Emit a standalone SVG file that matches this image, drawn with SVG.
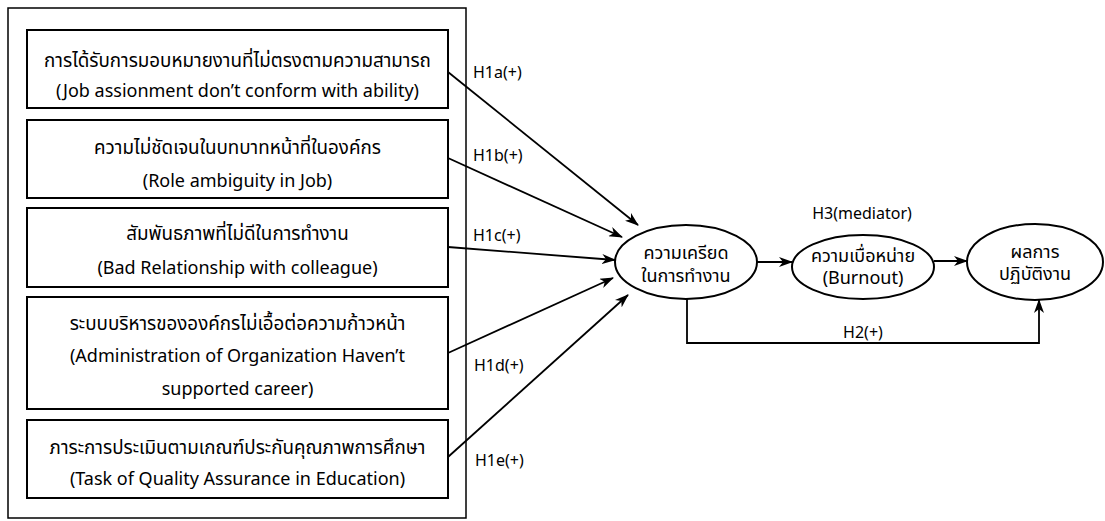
<svg xmlns="http://www.w3.org/2000/svg" width="1105" height="521" viewBox="0 0 1105 521">
<defs>
<marker id="ah" markerWidth="14" markerHeight="10" refX="13" refY="5" orient="auto" markerUnits="userSpaceOnUse">
<path d="M0,0 L14,5 L0,10 L4,5 Z" fill="#000"/>
</marker>
</defs>
<style>
.box{fill:#fff;stroke:#000;stroke-width:2}
.ell{fill:#fff;stroke:#000;stroke-width:2}
.t{font-family:"Noto Sans","Noto Sans Thai","Loma","DejaVu Sans",sans-serif;font-size:18px;fill:#000;text-anchor:middle;dominant-baseline:central}
.th{font-size:18.8px}
.e{font-size:18px}
.l{font-family:"Noto Sans","DejaVu Sans",sans-serif;font-size:16px;fill:#000;dominant-baseline:central}
.c{fill:none;stroke:#000;stroke-width:1.8}
</style>
<rect x="0" y="0" width="1105" height="521" fill="#fff"/>
<rect id="frame" x="8" y="8" width="458" height="510" fill="none" stroke="#000" stroke-width="1.5"/>
<g id="n1"><rect class="box" x="27" y="30" width="421" height="78"/>
<text class="t th" x="237.5" y="60">การได้รับการมอบหมายงานที่ไม่ตรงตามความสามารถ</text>
<text class="t" x="237.5" y="90">(Job assionment don’t conform with ability)</text></g>
<g id="n2"><rect class="box" x="27" y="120" width="421" height="78"/>
<text class="t th" x="237.5" y="147">ความไม่ชัดเจนในบทบาทหน้าที่ในองค์กร</text>
<text class="t" x="237.5" y="180">(Role ambiguity in Job)</text></g>
<g id="n3"><rect class="box" x="27" y="208" width="421" height="79"/>
<text class="t th" x="237.5" y="233">สัมพันธภาพที่ไม่ดีในการทำงาน</text>
<text class="t" x="237.5" y="267">(Bad Relationship with colleague)</text></g>
<g id="n4"><rect class="box" x="27" y="297" width="421" height="112"/>
<text class="t th" x="237.5" y="323">ระบบบริหารขององค์กรไม่เอื้อต่อความก้าวหน้า</text>
<text class="t" x="237.5" y="355">(Administration of Organization Haven’t</text>
<text class="t" x="237.5" y="388">supported career)</text></g>
<g id="n5"><rect class="box" x="27" y="420" width="421" height="78"/>
<text class="t th" x="237.5" y="447">ภาระการประเมินตามเกณฑ์ประกันคุณภาพการศึกษา</text>
<text class="t" x="237.5" y="478">(Task of Quality Assurance in Education)</text></g>
<g id="n6"><ellipse class="ell" cx="686" cy="262" rx="71" ry="37"/>
<text class="t e" x="686" y="252">ความเครียด</text>
<text class="t e" x="686" y="275">ในการทำงาน</text></g>
<g id="n7"><ellipse class="ell" cx="863" cy="267" rx="71" ry="32"/>
<text class="t e" x="863" y="255">ความเบื่อหน่าย</text>
<text class="t e" x="863" y="277">(Burnout)</text></g>
<g id="n8"><ellipse class="ell" cx="1035" cy="262" rx="68" ry="38"/>
<text class="t e" x="1035" y="251">ผลการ</text>
<text class="t e" x="1035" y="273">ปฏิบัติงาน</text></g>
<g id="connectors">
<line class="c" x1="448" y1="72" x2="638" y2="225" marker-end="url(#ah)"/>
<line class="c" x1="448" y1="158" x2="622" y2="237" marker-end="url(#ah)"/>
<line class="c" x1="448" y1="247" x2="615" y2="260" marker-end="url(#ah)"/>
<line class="c" x1="448" y1="353" x2="613" y2="278" marker-end="url(#ah)"/>
<line class="c" x1="448" y1="457" x2="628" y2="295" marker-end="url(#ah)"/>
<line class="c" x1="757" y1="262" x2="792" y2="262" marker-end="url(#ah)"/>
<line class="c" x1="934" y1="261" x2="967" y2="261" marker-end="url(#ah)"/>
<polyline class="c" points="687,299 687,343 1039,343 1039,300" marker-end="url(#ah)"/>
<text class="l" x="473" y="72">H1a(+)</text>
<text class="l" x="473" y="155">H1b(+)</text>
<text class="l" x="473" y="235">H1c(+)</text>
<text class="l" x="474" y="365">H1d(+)</text>
<text class="l" x="475" y="460">H1e(+)</text>
<text class="l" x="862" y="213" text-anchor="middle">H3(mediator)</text>
<text class="l" x="863" y="332" text-anchor="middle">H2(+)</text>
</g>
</svg>
